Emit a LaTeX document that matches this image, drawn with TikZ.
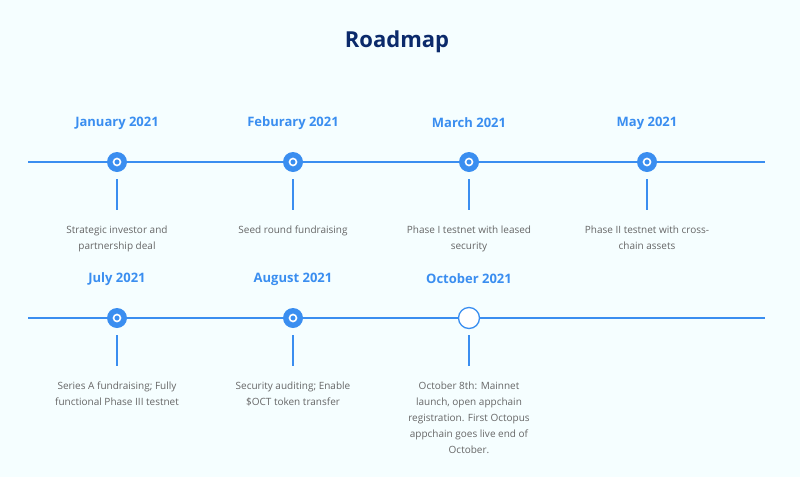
\documentclass[tikz,border=0pt]{standalone}
\usepackage{fontspec}
\setmainfont{Open Sans}
\definecolor{bg}{HTML}{F5FEFF}
\definecolor{blu}{HTML}{3A8EF0}
\definecolor{navy}{HTML}{0B2A6B}
\definecolor{txt}{HTML}{666666}
\begin{document}
\begin{tikzpicture}[x=1pt,y=-1pt,
  tl/.style={draw=blu,line width=1.5pt},
  dot/.style={circle,fill=blu,minimum size=20pt,inner sep=0pt},
  hole/.style={circle,draw=white,line width=1.6pt,minimum size=7pt,inner sep=0pt},
  odot/.style={circle,draw=blu,line width=1.3pt,fill=white,minimum size=21pt,inner sep=0pt},
  date/.style={text=blu,font=\bfseries\fontsize{13}{15}\selectfont},
  desc/.style={text=txt,font=\fontsize{10}{16}\selectfont,align=center,anchor=north}]
\fill[bg] (0,0) rectangle (800,477);
\useasboundingbox (0,0) rectangle (800,477);
\node[text=navy,font=\bfseries\fontsize{22}{26}\selectfont] (title) at (397,42) {Roadmap};
% row 1
\coordinate (l1a) at (28,162); \coordinate (l1b) at (765,162);
\draw[tl] (l1a) -- (l1b);
\coordinate (l2a) at (28,318); \coordinate (l2b) at (765,318);
\draw[tl] (l2a) -- (l2b);
\foreach \n/\x/\y/\d/\t in {a/117/162/January 2021/{Strategic investor and\\partnership deal},
  b/293/162/Feburary 2021/{Seed round fundraising},
  c/469/162/March 2021/{Phase I testnet with leased\\security},
  d/647/162/May 2021/{Phase II testnet with cross-\\chain assets},
  e/117/318/July 2021/{Series A fundraising; Fully\\functional Phase III testnet},
  f/293/318/August 2021/{Security auditing; Enable\\\$OCT token transfer}}{
  \node[dot] (m\n) at (\x,\y) {};
  \node[hole] at (m\n) {};
  \node[date] (d\n) at (\x,\y-39) {\d};
  \coordinate (s\n) at (\x,\y+17);
  \coordinate (e\n) at (\x,\y+48);
  \draw[blu,line width=1.3pt] (s\n) -- (e\n);
  \node[desc] (t\n) at (\x,\y+60) {\t};
}
\node[odot] (mg) at (469,318) {};
\node[date] (dg) at (469,279) {October 2021};
\coordinate (sg) at (469,335); \coordinate (eg) at (469,366);
\draw[blu,line width=1.3pt] (sg) -- (eg);
\node[desc] (tg) at (469,378) {October 8th: Mainnet\\launch, open appchain\\registration. First Octopus\\appchain goes live end of\\October.};
\end{tikzpicture}
\end{document}
